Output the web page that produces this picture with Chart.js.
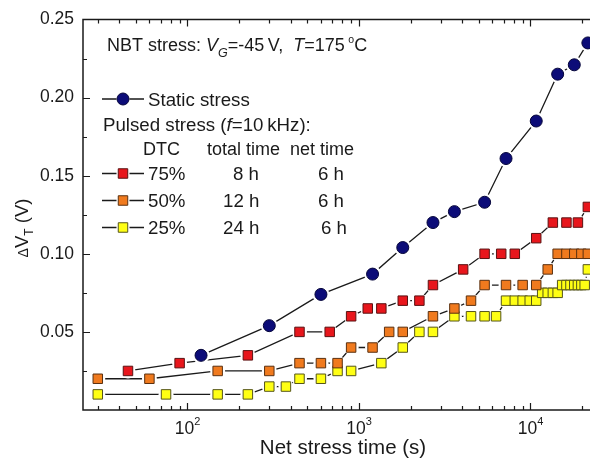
<!DOCTYPE html>
<html>
<head>
<meta charset="utf-8">
<script src="https://cdn.jsdelivr.net/npm/chart.js@4.4.1/dist/chart.umd.min.js"></script>
<style>
  html, body { margin: 0; padding: 0; background: #fff; }
</style>
</head>
<body>
<canvas id="nbtChart" width="590" height="459"></canvas>
<script>
// net stress time (s) and threshold shift dVT (V)
const staticTime = [120, 300, 600, 1200, 1800, 2700, 3600, 5400, 7200, 10800, 14400, 18000, 21600];
const staticDvt  = [0.035, 0.054, 0.074, 0.087, 0.104, 0.120, 0.127, 0.133, 0.161, 0.185, 0.215, 0.221, 0.235];

const dtc75Time = [45, 90, 225, 450, 675, 900, 1125, 1350, 1800, 2250, 2700, 4050, 5400, 6750, 8100, 10800, 13500, 16200, 18900, 21600];
const dtc75Dvt  = [0.025, 0.030, 0.035, 0.050, 0.050, 0.060, 0.065, 0.065, 0.070, 0.070, 0.080, 0.090, 0.100, 0.100, 0.100, 0.110, 0.120, 0.120, 0.120, 0.130];

const dtc50Time = [30, 60, 150, 300, 450, 600, 750, 900, 1200, 1500, 1800, 2700, 3600, 4500, 5400, 7200, 9000, 10800, 12600, 14400, 16200, 18000, 19800, 21600];
const dtc50Dvt  = [0.020, 0.020, 0.025, 0.025, 0.030, 0.030, 0.030, 0.040, 0.040, 0.050, 0.050, 0.060, 0.065, 0.070, 0.080, 0.080, 0.080, 0.080, 0.090, 0.100, 0.100, 0.100, 0.100, 0.100];

const dtc25Time = [30, 75, 150, 225, 300, 375, 450, 600, 750, 900, 1350, 1800, 2250, 2700, 3600, 4500, 5400, 6300, 7200, 8100, 9000, 9900, 10800, 11700, 12600, 13500, 14400, 15300, 16200, 17100, 18000, 18900, 19800, 20700, 21600];
const dtc25Dvt  = [0.010, 0.010, 0.010, 0.010, 0.015, 0.015, 0.020, 0.020, 0.025, 0.025, 0.030, 0.040, 0.050, 0.050, 0.060, 0.060, 0.060, 0.060, 0.070, 0.070, 0.070, 0.070, 0.070, 0.075, 0.075, 0.075, 0.075, 0.080, 0.080, 0.080, 0.080, 0.080, 0.080, 0.080, 0.090];

// axis ticks
const xDecades = [100, 1000, 10000];
const xExponents = ['2', '3', '4'];
const yTickValues = [0.05, 0.10, 0.15, 0.20, 0.25];

// legend rows
const dtcLabels = ['75%', '50%', '25%'];
const totalTimes = ['8 h', '12 h', '24 h'];
const netTimes = ['6 h', '6 h', '6 h'];

const FONT = '"Liberation Sans", Arial, sans-serif';
const INK = '#1a1a1a';
const LEG = 18.7;

const series = [
  { time: staticTime, dvt: staticDvt, shape: 'circle', r: 6, halo: 8.5, fill: '#0c0c78', edge: '#05053a' },
  { time: dtc75Time, dvt: dtc75Dvt, shape: 'rect', r: 6.7, halo: 7.5, fill: '#e8161c', edge: '#5a1212' },
  { time: dtc50Time, dvt: dtc50Dvt, shape: 'rect', r: 6.7, halo: 7.5, fill: '#f07a1e', edge: '#5a3010' },
  { time: dtc25Time, dvt: dtc25Dvt, shape: 'rect', r: 6.7, halo: 7.5, fill: '#ffff14', edge: '#55551a' }
];

const datasets = [];
series.forEach(s => {
  const pts = s.time.map((t, i) => ({ x: t, y: s.dvt[i] }));
  // line with white halos so it stops short of the symbols
  datasets.push({
    data: pts, order: 2, clip: false,
    borderColor: INK, borderWidth: 1.3, tension: 0,
    pointStyle: 'circle', pointRadius: s.halo, pointHoverRadius: s.halo,
    pointBackgroundColor: '#ffffff', pointBorderWidth: 0
  });
  datasets.push({
    data: pts, order: 1, clip: false, showLine: false,
    pointStyle: s.shape, pointRadius: s.r, pointHoverRadius: s.r,
    pointBackgroundColor: s.fill, pointBorderColor: s.edge, pointBorderWidth: 1
  });
});

function font(size, italic) {
  return (italic ? 'italic ' : '') + size + 'px ' + FONT;
}

// parts: [text, size, italic, dy]
function richText(ctx, parts, x, y, align) {
  let w = 0;
  parts.forEach(p => { ctx.font = font(p[1], p[2]); w += ctx.measureText(p[0]).width; });
  let cx = align === 'center' ? x - w / 2 : x;
  ctx.fillStyle = INK;
  parts.forEach(p => {
    ctx.font = font(p[1], p[2]);
    ctx.fillText(p[0], cx, y + (p[3] || 0));
    cx += ctx.measureText(p[0]).width;
  });
}

function marker(ctx, s, x, y) {
  ctx.fillStyle = s.fill;
  ctx.strokeStyle = s.edge;
  ctx.lineWidth = 1;
  ctx.beginPath();
  if (s.shape === 'circle') {
    ctx.arc(x, y, s.r, 0, Math.PI * 2);
  } else {
    const h = s.r * Math.SQRT1_2;
    ctx.rect(x - h, y - h, 2 * h, 2 * h);
  }
  ctx.fill();
  ctx.stroke();
}

function legendSample(ctx, s, y) {
  const gap = 6.5;
  ctx.strokeStyle = INK;
  ctx.lineWidth = 1.5;
  ctx.beginPath();
  ctx.moveTo(102, y); ctx.lineTo(123 - gap, y);
  ctx.moveTo(123 + gap, y); ctx.lineTo(144, y);
  ctx.stroke();
  marker(ctx, s, 123, y);
}

const frame = {
  id: 'frame',
  beforeDatasetsDraw(chart) {
    const { ctx, chartArea: a, scales: { x, y } } = chart;
    ctx.save();
    ctx.strokeStyle = INK;
    ctx.lineWidth = 1.5;
    ctx.beginPath();
    ctx.moveTo(a.right + 2, a.top); ctx.lineTo(a.left, a.top);
    ctx.lineTo(a.left, a.bottom); ctx.lineTo(a.right + 2, a.bottom);
    ctx.stroke();

    ctx.lineWidth = 1.2;
    ctx.beginPath();
    [10, 100, 1000, 10000].forEach(d => {
      for (let m = 1; m <= 9; m++) {
        const v = m * d;
        if (v <= x.min || v >= x.max) continue;
        const px = Math.round(x.getPixelForValue(v)) + 0.5;
        const len = m === 1 ? 7 : 4;
        ctx.moveTo(px, a.bottom); ctx.lineTo(px, a.bottom - len);
        ctx.moveTo(px, a.top); ctx.lineTo(px, a.top + len);
      }
    });
    for (let k = 1; k < 10; k++) {
      const v = k * 0.025;
      const py = Math.round(y.getPixelForValue(v)) + 0.5;
      const len = k % 2 === 0 ? 7 : 4;
      ctx.moveTo(a.left, py); ctx.lineTo(a.left + len, py);
    }
    ctx.stroke();
    ctx.restore();
  },
  afterDraw(chart) {
    const { ctx, scales: { x } } = chart;
    ctx.save();
    ctx.textBaseline = 'alphabetic';

    // x tick labels 10^n
    xDecades.forEach((d, i) => {
      richText(ctx, [['10', 17.5], [xExponents[i], 11, false, -9]], x.getPixelForValue(d), 434, 'center');
    });

    // axis titles
    richText(ctx, [['Net stress time (s)', 20.5]], 343, 454, 'center');
    ctx.save();
    ctx.translate(28, 228);
    ctx.rotate(-Math.PI / 2);
    richText(ctx, [['\u0394', 14], ['V', 18.5], ['T', 12, false, 5], [' (V)', 18.5]], 0, 0, 'center');
    ctx.restore();

    // condition line
    richText(ctx, [
      ['NBT stress: ', 18], ['V', 18, true], ['G', 12.5, true, 6], ['=-45\u2009V,  ', 18],
      ['T', 18, true], ['=175\u2009', 18], ['o', 10.5, false, -8], ['C', 18]
    ], 107, 51);

    // legend
    legendSample(ctx, series[0], 99);
    richText(ctx, [['Static stress', LEG]], 148, 105.5);
    richText(ctx, [['Pulsed stress (', LEG], ['f', LEG, true], ['=10\u2009kHz):', LEG]], 103, 131);
    richText(ctx, [['DTC', 18]], 143, 154.5);
    richText(ctx, [['total time', 18]], 207, 154.5);
    richText(ctx, [['net time', 18]], 290, 154.5);
    const rowY = [173.5, 200.5, 227.5];
    const totalX = [233, 223, 223];
    const netX = [318, 318, 321];
    rowY.forEach((ry, i) => {
      legendSample(ctx, series[i + 1], ry);
      richText(ctx, [[dtcLabels[i], LEG]], 148, ry + 6.5);
      richText(ctx, [[totalTimes[i], LEG]], totalX[i], ry + 6.5);
      richText(ctx, [[netTimes[i], LEG]], netX[i], ry + 6.5);
    });
    ctx.restore();
  }
};

new Chart(document.getElementById('nbtChart').getContext('2d'), {
  type: 'line',
  data: { datasets: datasets },
  options: {
    responsive: false,
    animation: false,
    events: [],
    layout: { autoPadding: false, padding: { top: 15, right: 0, bottom: 0, left: 0 } },
    plugins: {
      legend: { display: false },
      tooltip: { enabled: false }
    },
    scales: {
      x: {
        type: 'logarithmic',
        min: 24.6,
        max: 22230,
        grid: { display: false, drawTicks: false },
        border: { display: false },
        ticks: { display: false },
        afterFit: s => { s.height = 49; }
      },
      y: {
        min: 0,
        max: 0.25,
        grid: { display: false, drawTicks: false },
        border: { display: false },
        ticks: {
          padding: 9,
          color: INK,
          font: { family: FONT, size: 17.5 },
          callback: v => v.toFixed(2)
        },
        afterBuildTicks: s => { s.ticks = yTickValues.map(v => ({ value: v })); },
        afterFit: s => { s.width = 83; }
      }
    }
  },
  plugins: [frame]
});
</script>
</body>
</html>
